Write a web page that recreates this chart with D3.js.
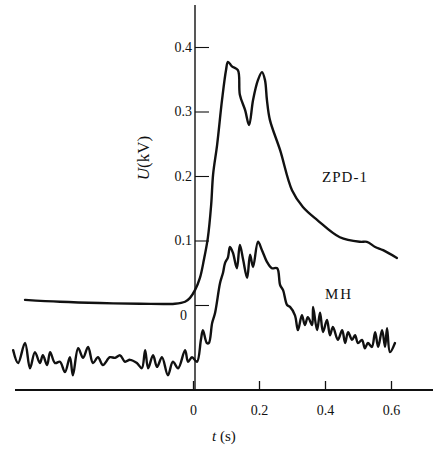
<!DOCTYPE html>
<html><head><meta charset="utf-8">
<script src="https://cdn.jsdelivr.net/npm/d3@7"></script>
<style>
html,body{margin:0;padding:0;background:#fff;}
svg{display:block;}
text{font-family:"Liberation Serif","DejaVu Serif",serif;fill:#111;}
</style></head>
<body>
<script>
// ---- data ----
const xTicks = [0, 0.2, 0.4, 0.6];
const xTickLabels = ["0", "0.2", "0.4", "0.6"];
const yTicks = [0, 0.1, 0.2, 0.3, 0.4];
const yTickLabels = ["0", "0.1", "0.2", "0.3", "0.4"];
const seriesNames = ["ZPD-1", "MH"];

const zpdT = [-0.509,-0.403,-0.282,-0.161,-0.055,-0.024,-0.009,0.006,0.021,0.033,0.045,0.055,0.061,0.073,0.088,0.100,0.106,0.118,0.136,0.142,0.158,0.170,0.182,0.197,0.209,0.218,0.224,0.233,0.264,0.300,0.333,0.376,0.445,0.506,0.527,0.552,0.576,0.618];
const zpdU = [0.008,0.005,0.003,0.002,0.002,0.005,0.011,0.023,0.042,0.070,0.104,0.155,0.203,0.248,0.318,0.364,0.377,0.370,0.364,0.326,0.302,0.279,0.318,0.349,0.361,0.349,0.318,0.287,0.240,0.178,0.152,0.132,0.105,0.098,0.098,0.090,0.085,0.073];

const mhT = [-0.545,-0.530,-0.509,-0.494,-0.479,-0.464,-0.455,-0.442,-0.433,-0.418,-0.403,-0.388,-0.373,-0.364,-0.348,-0.333,-0.318,-0.303,-0.288,-0.273,-0.252,-0.236,-0.221,-0.206,-0.191,-0.170,-0.155,-0.145,-0.136,-0.121,-0.109,-0.094,-0.076,-0.061,-0.045,-0.024,-0.015,-0.003,0.012,0.024,0.030,0.042,0.048,0.058,0.067,0.082,0.091,0.097,0.106,0.112,0.121,0.133,0.142,0.152,0.164,0.173,0.182,0.197,0.209,0.224,0.239,0.255,0.264,0.273,0.285,0.294,0.309,0.318,0.330,0.339,0.348,0.361,0.364,0.376,0.385,0.394,0.406,0.415,0.424,0.439,0.452,0.461,0.470,0.482,0.491,0.500,0.512,0.521,0.530,0.542,0.552,0.561,0.573,0.582,0.588,0.597,0.612];
const mhU = [-0.070,-0.090,-0.059,-0.098,-0.073,-0.090,-0.078,-0.093,-0.073,-0.090,-0.088,-0.104,-0.081,-0.109,-0.067,-0.082,-0.065,-0.090,-0.081,-0.093,-0.081,-0.082,-0.078,-0.088,-0.085,-0.090,-0.098,-0.070,-0.098,-0.078,-0.096,-0.081,-0.109,-0.088,-0.098,-0.070,-0.088,-0.081,-0.088,-0.054,-0.039,-0.059,-0.059,-0.028,-0.012,0.034,0.050,0.065,0.074,0.090,0.081,0.057,0.093,0.070,0.042,0.078,0.059,0.098,0.085,0.067,0.057,0.057,0.031,0.023,0.000,-0.003,-0.016,-0.039,-0.016,-0.031,-0.019,-0.031,-0.003,-0.039,-0.012,-0.042,-0.023,-0.047,-0.034,-0.054,-0.039,-0.059,-0.042,-0.054,-0.047,-0.059,-0.054,-0.067,-0.059,-0.065,-0.042,-0.065,-0.039,-0.065,-0.036,-0.073,-0.059];

// ---- layout ----
const W = 433, H = 449;
const svg = d3.select("body").append("svg").attr("width", W).attr("height", H);

const x = d3.scaleLinear().domain([0, 0.6]).range([193, 391]);
const y = d3.scaleLinear().domain([0, 0.4]).range([305, 47]);
const yAxisX = 195, xAxisY = 390;

// x axis line
svg.append("line")
  .attr("x1", 15).attr("x2", 433).attr("y1", xAxisY).attr("y2", xAxisY)
  .attr("stroke", "#111").attr("stroke-width", 1.8);

const xAxis = d3.axisBottom(x).tickValues(xTicks)
  .tickFormat((d, i) => xTickLabels[i]).tickSizeInner(-9).tickSizeOuter(0).tickPadding(15);
const gx = svg.append("g").attr("transform", `translate(0,${xAxisY})`).call(xAxis);
gx.select(".domain").remove();
gx.selectAll(".tick line").attr("stroke", "#111").attr("stroke-width", 1.3);
gx.selectAll(".tick text").attr("font-size", 14).attr("font-family", "Liberation Serif, serif")
  .style("fill", "#111");

// y axis line
svg.append("line")
  .attr("x1", yAxisX).attr("x2", yAxisX).attr("y1", 5).attr("y2", xAxisY)
  .attr("stroke", "#111").attr("stroke-width", 1.4);

const yAxis = d3.axisLeft(y).tickValues(yTicks)
  .tickFormat((d, i) => yTickLabels[i]).tickSizeInner(-14).tickSizeOuter(0).tickPadding(4);
const gy = svg.append("g").attr("transform", `translate(${yAxisX},0)`).call(yAxis);
gy.select(".domain").remove();
gy.selectAll(".tick line").attr("stroke", "#111").attr("stroke-width", 1.1);
gy.selectAll(".tick text").attr("font-size", 14).attr("font-family", "Liberation Serif, serif")
  .style("fill", "#111")
  .attr("dy", d => d === 0 ? "1.0em" : "0.32em")
  .attr("x", d => d === 0 ? -8 : -3);

// axis titles
svg.append("text").attr("transform", `translate(149,158) rotate(-90)`)
  .attr("text-anchor", "middle").attr("font-size", 17)
  .html('<tspan font-style="italic">U</tspan>(kV)');
svg.append("text").attr("x", 212).attr("y", 441).attr("font-size", 15)
  .html('<tspan font-style="italic">t</tspan> (s)');

// lines
const line = d3.line().x(d => x(d[0])).y(d => y(d[1])).curve(d3.curveCatmullRom.alpha(0.5));
const zpd = zpdT.map((t, i) => [t, zpdU[i]]);
const mh = mhT.map((t, i) => [t, mhU[i]]);

svg.append("path").datum(zpd).attr("d", line).attr("fill", "none")
  .attr("stroke", "#111").attr("stroke-width", 2.4).attr("stroke-linejoin", "round").attr("stroke-linecap", "round");
svg.append("path").datum(mh).attr("d", line).attr("fill", "none")
  .attr("stroke", "#111").attr("stroke-width", 2.4).attr("stroke-linejoin", "round").attr("stroke-linecap", "round");

// series labels
svg.append("text").attr("x", 345).attr("y", 182).attr("text-anchor", "middle")
  .attr("font-size", 15).attr("letter-spacing", 1).text(seriesNames[0]);
svg.append("text").attr("x", 339).attr("y", 299).attr("text-anchor", "middle")
  .attr("font-size", 15).attr("letter-spacing", 2).text(seriesNames[1]);
</script>
</body></html>
